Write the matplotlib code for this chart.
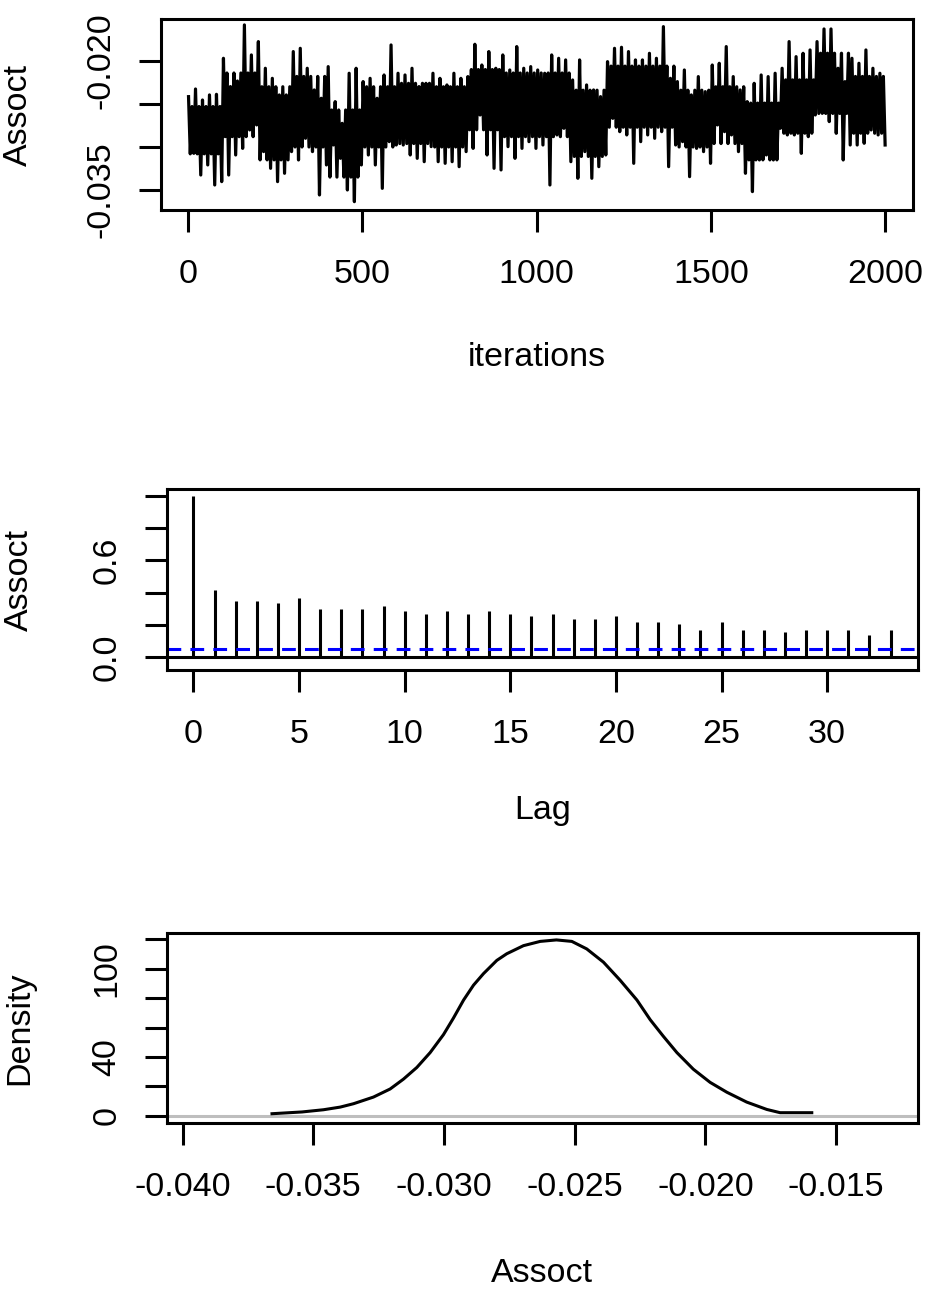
import numpy as np
import matplotlib.pyplot as plt

plt.rcParams['font.family'] = ['Liberation Sans', 'DejaVu Sans']
plt.rcParams['font.size'] = 24.5

##############trace data (column high / low, 20 iter per column)######
trace_hi = [-0.02415, -0.02326, -0.02454, -0.02395, -0.02388, -0.01969, -0.02298, -0.02233, -0.01581, -0.01930,
            -0.01775, -0.02085, -0.02202, -0.02395, -0.02395, -0.01891, -0.01853, -0.02085, -0.02337, -0.02434,
            -0.02066, -0.02473, -0.02725, -0.02143, -0.02085, -0.02240, -0.02202, -0.02434, -0.02163, -0.01814,
            -0.02143, -0.02163, -0.02085, -0.02298, -0.02260, -0.02143, -0.02202, -0.02279, -0.02143, -0.02202,
            -0.02182, -0.01806, -0.02047, -0.01891, -0.02085, -0.01930, -0.02105, -0.01833, -0.02085, -0.02066,
            -0.02105, -0.02143, -0.01930, -0.01969, -0.01988, -0.02221, -0.01988, -0.02279, -0.02337, -0.02415,
            -0.02008, -0.01853, -0.01841, -0.01891, -0.01988, -0.01988, -0.01911, -0.01969, -0.01601, -0.02202,
            -0.02240, -0.02105, -0.02395, -0.02182, -0.02357, -0.02047, -0.02027, -0.01833, -0.02182, -0.02337,
            -0.02473, -0.02260, -0.02163, -0.02182, -0.02143, -0.02085, -0.01775, -0.01950, -0.01911, -0.01872,
            -0.01775, -0.01628, -0.01628, -0.02085, -0.02240, -0.01969, -0.02027, -0.01872, -0.02085, -0.02143]
trace_lo = [-0.03074, -0.03326, -0.03209, -0.03442, -0.03403, -0.03326, -0.03093, -0.03016, -0.02802, -0.02744,
            -0.03054, -0.03248, -0.03403, -0.03306, -0.03054, -0.03151, -0.02899, -0.03054, -0.03558, -0.03209,
            -0.02977, -0.03132, -0.03500, -0.03636, -0.03209, -0.03093, -0.03209, -0.03481, -0.02938, -0.02977,
            -0.02977, -0.03093, -0.03132, -0.03171, -0.02996, -0.03171, -0.03190, -0.03171, -0.03229, -0.03054,
            -0.03016, -0.02628, -0.03093, -0.03248, -0.03267, -0.02996, -0.03132, -0.03016, -0.02938, -0.03016,
            -0.02977, -0.03442, -0.02860, -0.02783, -0.03171, -0.03364, -0.03054, -0.03364, -0.03229, -0.03093,
            -0.02667, -0.02822, -0.02860, -0.03190, -0.02938, -0.02860, -0.02899, -0.02822, -0.03229, -0.02977,
            -0.02938, -0.03345, -0.03016, -0.03054, -0.03190, -0.02744, -0.02822, -0.02860, -0.03054, -0.03306,
            -0.03519, -0.03151, -0.03093, -0.03151, -0.02783, -0.02860, -0.02860, -0.03074, -0.02880, -0.02628,
            -0.02609, -0.02705, -0.02841, -0.03151, -0.02977, -0.02977, -0.02957, -0.02802, -0.02860, -0.02977]
# solid core of the trace band, one value per 100 iterations
core_top = [-0.02530, -0.02140, -0.02300, -0.02180, -0.02570, -0.02300, -0.02260, -0.02300, -0.02100, -0.02140,
            -0.02140, -0.02340, -0.02060, -0.02060, -0.02340, -0.02300, -0.02490, -0.02220, -0.01910, -0.02180]
core_bot = [-0.03080, -0.02880, -0.03150, -0.03000, -0.03350, -0.03000, -0.02960, -0.03000, -0.02800, -0.02880,
            -0.02880, -0.03110, -0.02770, -0.02770, -0.03000, -0.02960, -0.03150, -0.02840, -0.02610, -0.02840]

##############acf data#################################################
acf_lags = list(range(0, 34))
acf_vals = [1.0, 0.413, 0.349, 0.349, 0.333, 0.366, 0.300, 0.300, 0.300, 0.316,
            0.283, 0.267, 0.285, 0.269, 0.285, 0.269, 0.252, 0.269, 0.236, 0.236,
            0.252, 0.219, 0.219, 0.202, 0.169, 0.219, 0.169, 0.169, 0.155, 0.169,
            0.169, 0.169, 0.138, 0.169]
acf_ci = 0.048

##############density data#############################################
dens_x = [-0.03658, -0.03543, -0.03461, -0.03397, -0.03346, -0.03270, -0.03206, -0.03155, -0.03104,
          -0.03053, -0.03002, -0.02964, -0.02925, -0.02887, -0.02849, -0.02798, -0.02760, -0.02696,
          -0.02632, -0.02570, -0.02511, -0.02454, -0.02390, -0.02326, -0.02262, -0.02211, -0.02161,
          -0.02109, -0.02046, -0.01982, -0.01918, -0.01842, -0.01765, -0.01714, -0.01593]
dens_y = [1.5, 2.7, 4.2, 6.0, 8.3, 12.8, 18.3, 25.0, 32.9,
          43.0, 55.2, 66.4, 78.7, 88.8, 96.6, 105.6, 110.1, 115.6,
          118.5, 119.5, 118.5, 113.4, 104.4, 92.1, 78.7, 65.3, 54.1,
          43.0, 31.7, 22.8, 16.1, 9.4, 4.4, 2.2, 2.2]

W, H = 945, 1316
LW = 2.2

def add_box(left, top, right, bottom):
    ax = fig.add_axes([left / W, 1 - bottom / H, (right - left) / W, (bottom - top) / H])
    for s in ax.spines.values():
        s.set_linewidth(LW)
    ax.tick_params(length=16, width=LW, pad=19, top=False, right=False)
    ax.tick_params(axis='y', pad=16)
    return ax

def ylabels_vertical(ax):
    for t in ax.get_yticklabels():
        t.set_rotation(90)
        t.set_va('center')

fig = plt.figure(figsize=(W / 100, H / 100), dpi=100)

#############trace plot################################################
ax1 = add_box(161, 19, 913, 210)
ncol = len(trace_hi)
per_block = ncol // len(core_top)
trace = np.column_stack([trace_hi,
                         np.repeat(core_bot, per_block),
                         np.repeat(core_top, per_block),
                         trace_lo]).ravel()
iters = np.linspace(1, 2000, len(trace))
ax1.plot(iters, trace, color='black', lw=2.3)
ax1.set_xlim(-78, 2080)
ax1.set_ylim(-0.03733, -0.01512)
ax1.set_xticks([0, 500, 1000, 1500, 2000])
ax1.set_yticks([-0.035, -0.030, -0.025, -0.020])
ax1.set_yticklabels(['-0.035', '', '', '-0.020'])
ylabels_vertical(ax1)
ax1.set_xlabel('iterations', va='center')
ax1.xaxis.set_label_coords(0.5, -0.770)
ax1.set_ylabel('Assoct', va='center')
ax1.yaxis.set_label_coords(-0.189, 0.5)

#############acf plot##################################################
ax2 = add_box(167, 489, 918, 670)
ax2.vlines(acf_lags, 0, acf_vals, color='black', lw=LW)
ax2.axhline(0, color='black', lw=LW)
ax2.axhline(acf_ci, color='blue', lw=LW, linestyle=(0, (4.5, 3)))
ax2.set_xlim(-1.25, 34.3)
ax2.set_ylim(-0.081, 1.0435)
ax2.set_xticks([0, 5, 10, 15, 20, 25, 30])
ax2.set_yticks([0.0, 0.2, 0.4, 0.6, 0.8, 1.0])
ax2.set_yticklabels(['0.0', '', '', '0.6', '', ''])
ylabels_vertical(ax2)
ax2.set_xlabel('Lag', va='center')
ax2.xaxis.set_label_coords(0.5, -0.779)
ax2.set_ylabel('Assoct', va='center')
ax2.yaxis.set_label_coords(-0.196, 0.5)

#############density plot##############################################
ax3 = add_box(167, 933, 918, 1123)
ax3.axhline(0, color='#bebebe', lw=LW)
ax3.plot(dens_x, dens_y, color='black', lw=LW)
ax3.set_xlim(-0.040597, -0.011866)
ax3.set_ylim(-4.8, 124.2)
ax3.set_xticks([-0.040, -0.035, -0.030, -0.025, -0.020, -0.015])
ax3.set_xticklabels(['-0.040', '-0.035', '-0.030', '-0.025', '-0.020', '-0.015'])
ax3.set_yticks([0, 20, 40, 60, 80, 100, 120])
ax3.set_yticklabels(['0', '', '40', '', '', '100', ''])
ylabels_vertical(ax3)
ax3.set_xlabel('Assoct', va='center')
ax3.xaxis.set_label_coords(0.5, -0.794)
ax3.set_ylabel('Density', va='center')
ax3.yaxis.set_label_coords(-0.196, 0.5)

fig.savefig('out.png', dpi=100)
